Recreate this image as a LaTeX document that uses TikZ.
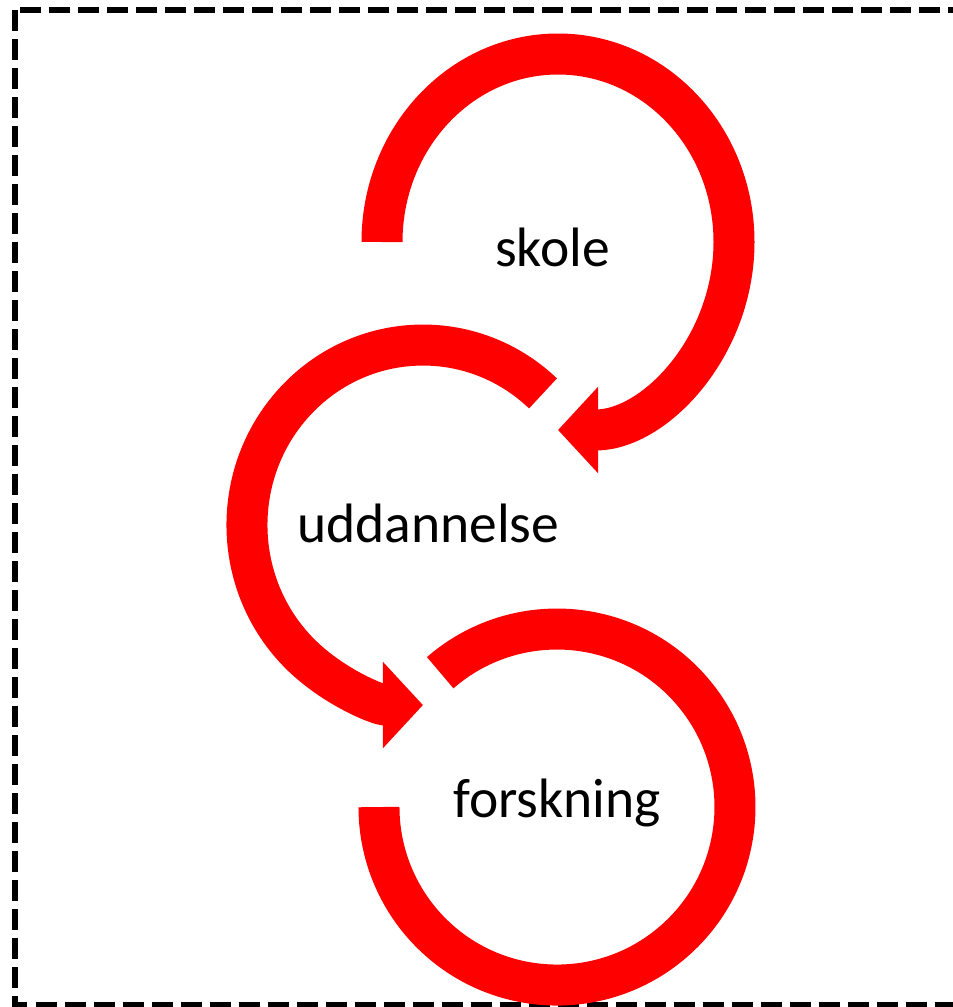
\documentclass[tikz,border=0pt]{standalone}
\usepackage{fontspec}
\setmainfont{Carlito}
\usepackage{xcolor}
\usetikzlibrary{arrows.meta}

\begin{document}
\begin{tikzpicture}[x=1pt, y=1pt,
        ring/.style={red, line width=41pt},
        head/.style={-{Triangle[length=40pt, width=84pt]}},
        word/.style={anchor=base west, inner sep=0pt, font=\fontsize{55.5}{60}\selectfont}]
            \useasboundingbox (0,0) rectangle (953,-1007);
            \clip (0,0) rectangle (953,-1007);

            \draw[line width=6pt, dash pattern=on 21pt off 8pt] (15,-10) rectangle (962,-1004.5);

            \coordinate (skoleStart) at (382,-242);
            \coordinate (uddStart) at (543,-393.4);
            \coordinate (forskStart) at (440.2,-672.7);

            \draw[ring, head] (skoleStart) arc[start angle=180, end angle=-90, x radius=176, y radius=188];
            \draw[ring, head] (uddStart) arc[start angle=47, end angle=270, x radius=176, y radius=180];
            \draw[ring] (forskStart) arc[start angle=131, end angle=-180, radius=178];

            \node[word] (skole) at (495,-266) {skole};
            \node[word] (udd) at (297,-542) {uddannelse};
            \node[word] (forsk) at (453,-817) {forskning};
        \end{tikzpicture}
\end{document}
